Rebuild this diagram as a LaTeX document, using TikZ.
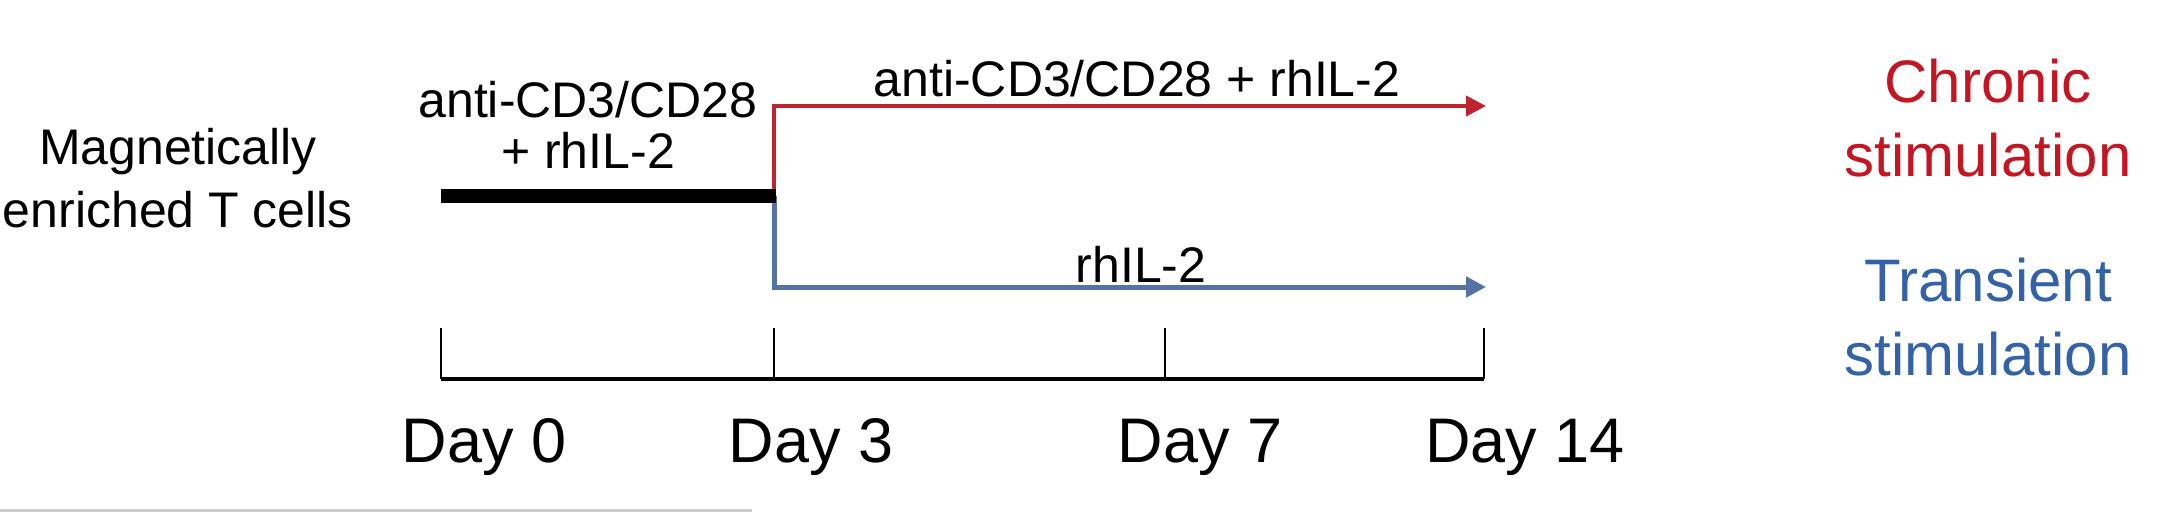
\documentclass[tikz,border=0pt]{standalone}
\usepackage{fontspec}
\setmainfont{Liberation Sans}
\usetikzlibrary{arrows.meta}
\definecolor{chronred}{RGB}{196,22,34}
\definecolor{linered}{RGB}{190,36,48}
\definecolor{transblue}{RGB}{52,98,168}
\definecolor{lineblue}{RGB}{84,114,164}
\begin{document}
\begin{tikzpicture}[x=1pt,y=-1pt,
  small/.style={font=\fontsize{50}{57}\selectfont, inner sep=0pt, align=center, anchor=base},
  daylab/.style={font=\fontsize{63}{70}\selectfont, inner sep=0pt, anchor=base},
  outcome/.style={font=\fontsize{60}{74}\selectfont, inner sep=0pt, align=center, anchor=base},
  redline/.style={draw=linered, line width=4pt, -{Triangle[length=20pt,width=20pt]}},
  blueline/.style={draw=lineblue, line width=5pt, -{Triangle[length=20pt,width=20pt]}},
  tick/.style={draw=black, line width=2pt},
  axis/.style={draw=black, line width=3.5pt}]
\useasboundingbox (0,0) rectangle (2160,512);
% source
\node[small, font=\fontsize{50}{63}\selectfont] (src) at (178,227) {Magnetically\\enriched T cells};
\node[small, font=\fontsize{50}{51}\selectfont] (act) at (588,168) {anti-CD3/CD28\\+ rhIL-2};
\coordinate (d0) at (441,196);
\coordinate (br) at (774,196);
\coordinate (rs) at (774,106);
\coordinate (re) at (1486,106);
\coordinate (bs) at (774,287);
\coordinate (be) at (1486,287);
\draw[redline] (br) -- (rs) -- (re);
\draw[blueline] (br) -- (bs) -- (be);
\draw[draw=black, line width=14pt] (d0) -- ([xshift=2pt]br);
\node[small] (chrlab) at (1137,96) {anti-CD3/CD28 + rhIL-2};
\node[small] (trlab) at (1141,282) {rhIL-2};
% timeline
\coordinate (t0) at (441,379);
\coordinate (t3) at (774,379);
\coordinate (t7) at (1165,379);
\coordinate (t14) at (1484,379);
\coordinate (u0) at (441,328);
\coordinate (u3) at (774,328);
\coordinate (u7) at (1165,328);
\coordinate (u14) at (1484,328);
\draw[axis] (t0) -- (t14);
\draw[tick] (t0) -- (u0);
\draw[tick] (t3) -- (u3);
\draw[tick] (t7) -- (u7);
\draw[tick] (t14) -- (u14);
\node[daylab] (day0) at (484,462) {Day 0};
\node[daylab] (day3) at (811,462) {Day 3};
\node[daylab] (day7) at (1200,462) {Day 7};
\node[daylab] (day14) at (1525,462) {Day 14};
% outcomes
\node[outcome, text=chronred] (chronic) at (1988,176) {Chronic\\stimulation};
\node[outcome, text=transblue] (transient) at (1988,375) {Transient\\stimulation};
% bottom rule fragment
\coordinate (g0) at (0,510);
\coordinate (g1) at (752,510);
\draw[draw=black!20, line width=3pt] (g0) -- (g1);
\end{tikzpicture}
\end{document}
